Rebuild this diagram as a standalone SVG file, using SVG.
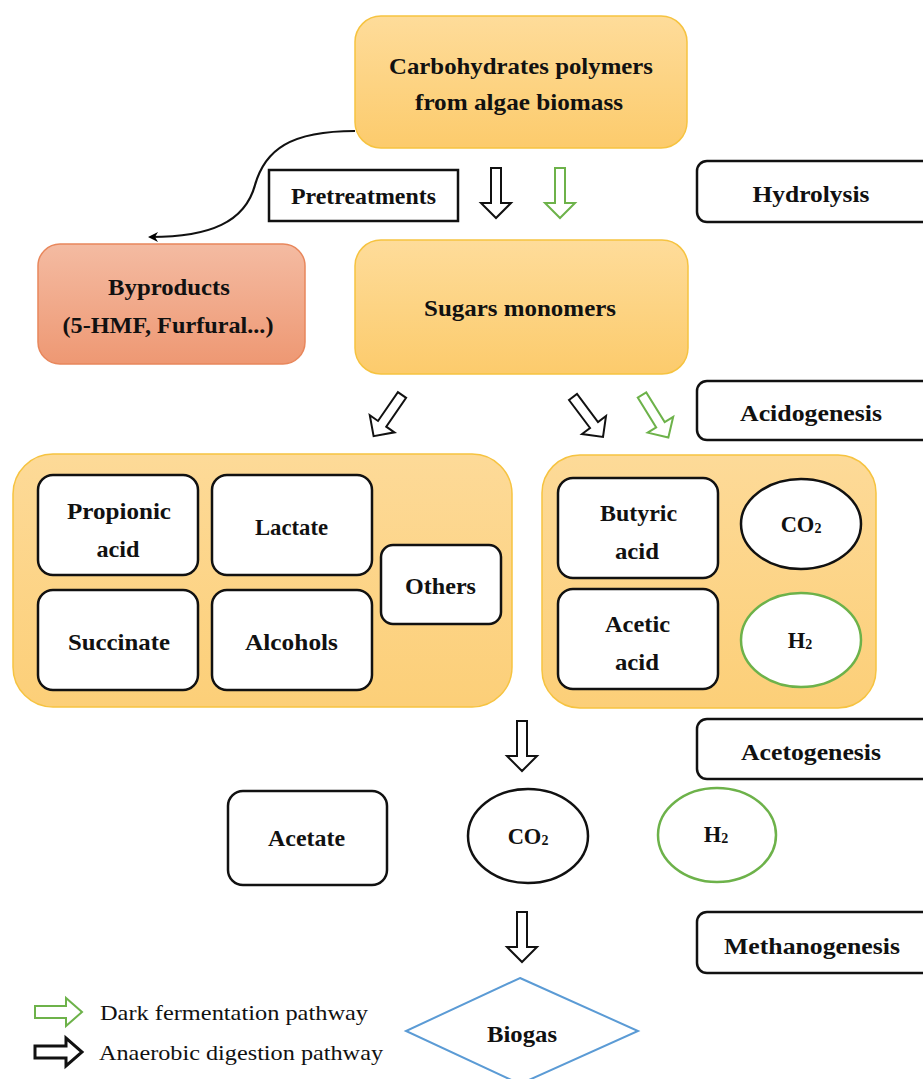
<svg xmlns="http://www.w3.org/2000/svg" width="923" height="1079" viewBox="0 0 923 1079">
<defs>
<linearGradient id="gOr" x1="0" y1="0" x2="0" y2="1"><stop offset="0" stop-color="#FEDC9A"/><stop offset="1" stop-color="#FCCB6C"/></linearGradient>
<linearGradient id="gSal" x1="0" y1="0" x2="0" y2="1"><stop offset="0" stop-color="#F4BBA2"/><stop offset="1" stop-color="#EE9873"/></linearGradient>
<linearGradient id="gCont" x1="0" y1="0" x2="0" y2="1"><stop offset="0" stop-color="#FDDA98"/><stop offset="1" stop-color="#FCCF78"/></linearGradient>
<path id="dn" d="M-5,0 H5 V35 H15 L0,50 L-15,35 H-5 Z"/>
<path id="rt" d="M0,-6 H31 V-14 L47,0 L31,14 V6 H0 Z"/>
<marker id="ah" markerWidth="10" markerHeight="10" refX="7" refY="5" orient="auto" markerUnits="userSpaceOnUse"><path d="M0,0 L10,5 L0,10 L3,5 Z" fill="#000"/></marker>
<style>
.t{font-family:"Liberation Serif","Times New Roman",serif;font-weight:bold;font-size:22.5px;fill:#111;}
.lg{font-family:"Liberation Serif","Times New Roman",serif;font-size:21.5px;fill:#111;}
.or{fill:url(#gOr);stroke:#F6C340;stroke-width:1.5;}
.ct{fill:url(#gCont);stroke:#F6C340;stroke-width:1.5;}
.wb{fill:#fff;stroke:#111;stroke-width:2.5;}
.lb{fill:#fff;stroke:#111;stroke-width:2.5;}
.ab{fill:#fff;stroke:#111;stroke-width:2;}
.ag{fill:#fff;stroke:#6DB24A;stroke-width:2;}
.ge{fill:#fff;stroke:#6DB24A;stroke-width:2.5;}
.sb{font-size:14px;}
</style>
</defs>
<rect width="923" height="1079" fill="#fff"/>

<g id="connectors">
<path d="M355,131 C290,131 265,150 255,185 C245,222 210,237 151,237" fill="none" stroke="#111" stroke-width="2.2" marker-end="url(#ah)"/>
<use href="#dn" class="ab" transform="translate(496,168)"/>
<use href="#dn" class="ag" transform="translate(560,168)"/>
<use href="#dn" class="ab" transform="translate(402,395) rotate(34.6)"/>
<use href="#dn" class="ab" transform="translate(573,397) rotate(-36.9)"/>
<use href="#dn" class="ag" transform="translate(642,395) rotate(-31.8)"/>
<use href="#dn" class="ab" transform="translate(522,721)"/>
<use href="#dn" class="ab" transform="translate(522,912)"/>
</g>

<g id="carbohydrates">
<rect x="355" y="16" width="332" height="132" rx="26" class="or"/>
<text class="t" x="521" y="74" text-anchor="middle" textLength="264" lengthAdjust="spacingAndGlyphs">Carbohydrates polymers</text>
<text class="t" x="519" y="110" text-anchor="middle" textLength="208" lengthAdjust="spacingAndGlyphs">from algae biomass</text>
</g>

<g id="pretreatments">
<rect x="269" y="170" width="189" height="51" fill="#fff" stroke="#111" stroke-width="2.5"/>
<text class="t" x="363.5" y="204" text-anchor="middle" textLength="145" lengthAdjust="spacingAndGlyphs">Pretreatments</text>
</g>

<g id="hydrolysis">
<rect x="697" y="161" width="245" height="61" rx="10" class="lb"/>
<text class="t" x="811" y="202" text-anchor="middle" textLength="117" lengthAdjust="spacingAndGlyphs">Hydrolysis</text>
</g>

<g id="byproducts">
<rect x="38" y="244" width="267" height="120" rx="22" fill="url(#gSal)" stroke="#E8875C" stroke-width="1.5"/>
<text class="t" x="169" y="295" text-anchor="middle" textLength="122" lengthAdjust="spacingAndGlyphs">Byproducts</text>
<text class="t" x="168" y="333" text-anchor="middle" textLength="211" lengthAdjust="spacingAndGlyphs">(5-HMF, Furfural...)</text>
</g>

<g id="sugars">
<rect x="355" y="240" width="333" height="134" rx="26" class="or"/>
<text class="t" x="520" y="316" text-anchor="middle" textLength="192" lengthAdjust="spacingAndGlyphs">Sugars monomers</text>
</g>

<g id="acidogenesis">
<rect x="697" y="381" width="245" height="59" rx="10" class="lb"/>
<text class="t" x="811" y="421" text-anchor="middle" textLength="142" lengthAdjust="spacingAndGlyphs">Acidogenesis</text>
</g>

<g id="left-products">
<rect x="13" y="454" width="499" height="253" rx="40" class="ct"/>
</g>
<g id="propionic">
<rect x="38" y="475" width="160" height="100" rx="15" class="wb"/>
<text class="t" x="119" y="519" text-anchor="middle" textLength="104" lengthAdjust="spacingAndGlyphs">Propionic</text>
<text class="t" x="118" y="557" text-anchor="middle" textLength="43" lengthAdjust="spacingAndGlyphs">acid</text>
</g>
<g id="lactate">
<rect x="212" y="475" width="160" height="100" rx="15" class="wb"/>
<text class="t" x="291.5" y="535" text-anchor="middle" textLength="73" lengthAdjust="spacingAndGlyphs">Lactate</text>
</g>
<g id="succinate">
<rect x="38" y="590" width="160" height="100" rx="15" class="wb"/>
<text class="t" x="119" y="650" text-anchor="middle" textLength="102" lengthAdjust="spacingAndGlyphs">Succinate</text>
</g>
<g id="alcohols">
<rect x="212" y="590" width="160" height="100" rx="15" class="wb"/>
<text class="t" x="291.5" y="650" text-anchor="middle" textLength="93" lengthAdjust="spacingAndGlyphs">Alcohols</text>
</g>
<g id="others">
<rect x="381" y="545" width="120" height="79" rx="12" class="wb"/>
<text class="t" x="440.5" y="594" text-anchor="middle" textLength="71" lengthAdjust="spacingAndGlyphs">Others</text>
</g>

<g id="right-products">
<rect x="542" y="455" width="334" height="253" rx="38" class="ct"/>
</g>
<g id="butyric">
<rect x="558" y="478" width="160" height="100" rx="15" class="wb"/>
<text class="t" x="638.5" y="521" text-anchor="middle" textLength="77" lengthAdjust="spacingAndGlyphs">Butyric</text>
<text class="t" x="637" y="559" text-anchor="middle" textLength="44" lengthAdjust="spacingAndGlyphs">acid</text>
</g>
<g id="co2-a">
<ellipse cx="801" cy="524" rx="60" ry="45" class="wb"/>
<text class="t" x="801" y="532" text-anchor="middle">CO<tspan class="sb" dy="1">2</tspan></text>
</g>
<g id="acetic">
<rect x="558" y="589" width="160" height="100" rx="15" class="wb"/>
<text class="t" x="637.5" y="632" text-anchor="middle" textLength="65" lengthAdjust="spacingAndGlyphs">Acetic</text>
<text class="t" x="637" y="670" text-anchor="middle" textLength="44" lengthAdjust="spacingAndGlyphs">acid</text>
</g>
<g id="h2-a">
<ellipse cx="801" cy="640" rx="60" ry="47" class="ge"/>
<text class="t" x="800" y="648" text-anchor="middle">H<tspan class="sb" dy="1">2</tspan></text>
</g>

<g id="acetogenesis">
<rect x="697" y="719" width="245" height="60" rx="10" class="lb"/>
<text class="t" x="811" y="760" text-anchor="middle" textLength="140" lengthAdjust="spacingAndGlyphs">Acetogenesis</text>
</g>

<g id="acetate">
<rect x="228" y="791" width="159" height="94" rx="15" class="wb"/>
<text class="t" x="306.5" y="846" text-anchor="middle" textLength="77" lengthAdjust="spacingAndGlyphs">Acetate</text>
</g>
<g id="co2-b">
<ellipse cx="528" cy="836" rx="60" ry="47" class="wb"/>
<text class="t" x="528" y="844" text-anchor="middle">CO<tspan class="sb" dy="1">2</tspan></text>
</g>
<g id="h2-b">
<ellipse cx="717" cy="835" rx="59" ry="47" class="ge"/>
<text class="t" x="716" y="842" text-anchor="middle">H<tspan class="sb" dy="1">2</tspan></text>
</g>

<g id="methanogenesis">
<rect x="697" y="912" width="245" height="61" rx="10" class="lb"/>
<text class="t" x="812" y="954" text-anchor="middle" textLength="176" lengthAdjust="spacingAndGlyphs">Methanogenesis</text>
</g>

<g id="biogas">
<path d="M520,978 L638,1031 L520,1084 L406,1031 Z" fill="#fff" stroke="#5B9BD5" stroke-width="2"/>
<text class="t" x="522" y="1042" text-anchor="middle" textLength="70" lengthAdjust="spacingAndGlyphs">Biogas</text>
</g>

<g id="legend">
<use href="#rt" class="ag" transform="translate(35,1012)"/>
<text class="lg" x="100" y="1020" textLength="268" lengthAdjust="spacingAndGlyphs">Dark fermentation pathway</text>
<use href="#rt" fill="#fff" stroke="#111" stroke-width="3" transform="translate(35,1052)"/>
<text class="lg" x="99" y="1060" textLength="284" lengthAdjust="spacingAndGlyphs">Anaerobic digestion pathway</text>
</g>
</svg>
